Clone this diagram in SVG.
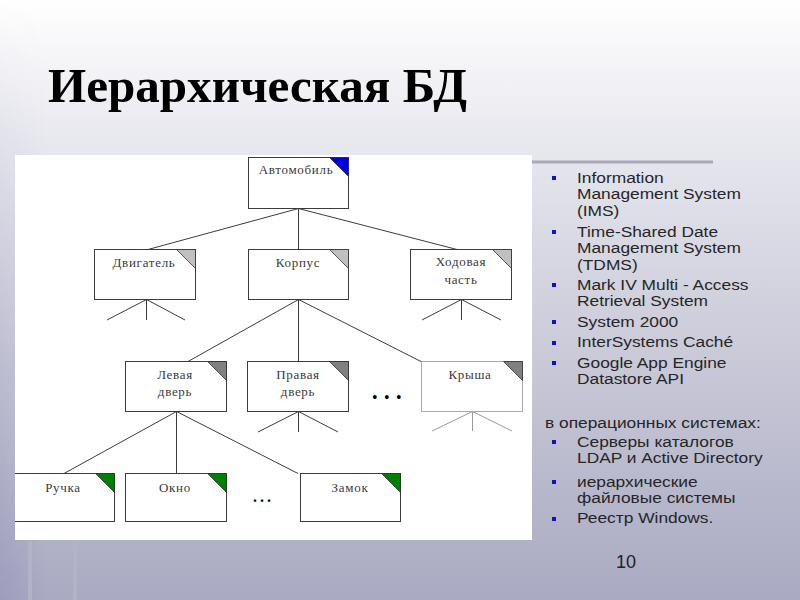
<svg xmlns="http://www.w3.org/2000/svg" width="800" height="600" viewBox="0 0 800 600">
<defs>
<linearGradient id="bg" x1="0" y1="0" x2="0" y2="1">
<stop offset="0" stop-color="#ffffff"/>
<stop offset="0.22" stop-color="#e9e9f0"/>
<stop offset="0.55" stop-color="#cdcddb"/>
<stop offset="1" stop-color="#a9a9c2"/>
</linearGradient>
<linearGradient id="lft" x1="0" y1="0" x2="1" y2="0">
<stop offset="0" stop-color="#6e6ea6" stop-opacity="0.2"/>
<stop offset="1" stop-color="#6e6ea6" stop-opacity="0"/>
</linearGradient>
<linearGradient id="fade" x1="0" y1="0" x2="0" y2="1">
<stop offset="0" stop-color="#fff" stop-opacity="0"/>
<stop offset="1" stop-color="#fff" stop-opacity="1"/>
</linearGradient>
<mask id="lm"><rect x="0" y="0" width="45" height="600" fill="url(#fade)"/></mask>
<clipPath id="panel"><rect x="15" y="155" width="517" height="385"/></clipPath>
<style>
.box{fill:#ffffff;stroke:#3c3c3c;stroke-width:1}
.boxl{fill:#ffffff;stroke:#a8a8a8;stroke-width:1}
.tri{stroke:#303030;stroke-width:0.8}
.lbl{font-family:"Liberation Serif","Times New Roman",serif;font-size:13px;fill:#3a3a3a;text-anchor:middle;letter-spacing:0.7px}
.conn line{stroke:#3c3c3c;stroke-width:1}
.conn .lt{stroke:#9a9a9a}
.txt{font-family:"Liberation Sans",Arial,sans-serif;font-size:15.5px;fill:#262626}
.bul{fill:#1010d0}
</style>
</defs>
<rect x="0" y="0" width="800" height="600" fill="url(#bg)"/>
<rect x="0" y="0" width="45" height="600" fill="url(#lft)" mask="url(#lm)"/>
<rect x="28" y="540" width="4" height="60" fill="#b3b3c8"/>
<rect x="73" y="540" width="4" height="60" fill="#b3b3c8"/>

<text id="title" x="48" y="102" font-family="'Liberation Serif','Times New Roman',serif" font-weight="bold" font-size="48" fill="#000" textLength="419" lengthAdjust="spacingAndGlyphs">Иерархическая БД</text>

<rect x="532" y="160.5" width="181" height="3" fill="#a9a9b6"/>
<rect x="15" y="155" width="517" height="385" fill="#ffffff"/>

<g class="conn">
<line x1="298.5" y1="208.5" x2="148" y2="249.5"/>
<line x1="298.5" y1="208.5" x2="298.5" y2="249.5"/>
<line x1="298.5" y1="208.5" x2="457" y2="249.5"/>
<line x1="146.5" y1="299.5" x2="107" y2="320"/>
<line x1="146.5" y1="299.5" x2="146.5" y2="320"/>
<line x1="146.5" y1="299.5" x2="185" y2="320"/>
<line x1="461.5" y1="299.5" x2="422" y2="320"/>
<line x1="461.5" y1="299.5" x2="461.5" y2="320"/>
<line x1="461.5" y1="299.5" x2="501" y2="320"/>
<line x1="298.5" y1="299.5" x2="188" y2="361.5"/>
<line x1="298.5" y1="299.5" x2="298.5" y2="361.5"/>
<line x1="298.5" y1="299.5" x2="421" y2="361.5"/>
<line x1="176.5" y1="411.5" x2="64" y2="473.5"/>
<line x1="176.5" y1="411.5" x2="176.5" y2="473.5"/>
<line x1="176.5" y1="411.5" x2="298" y2="473.5"/>
<line x1="298.5" y1="411.5" x2="258" y2="432"/>
<line x1="298.5" y1="411.5" x2="298.5" y2="432"/>
<line x1="298.5" y1="411.5" x2="338" y2="432"/>
<line class="lt" x1="472.5" y1="411.5" x2="432" y2="431"/>
<line class="lt" x1="472.5" y1="411.5" x2="472.5" y2="431"/>
<line class="lt" x1="472.5" y1="411.5" x2="512" y2="431"/>
</g>

<g id="avtomobil">
<rect class="box" x="248.5" y="157.5" width="100" height="51"/>
<polygon class="tri" points="329.5,157.5 348.5,157.5 348.5,176.5" fill="#0000e6"/>
<text class="lbl" x="296" y="174">Автомобиль</text>
</g>
<g id="dvigatel">
<rect class="box" x="94.5" y="249.5" width="101" height="50"/>
<polygon class="tri" points="176.5,249.5 195.5,249.5 195.5,268.5" fill="#c0c0c0"/>
<text class="lbl" x="144" y="267">Двигатель</text>
</g>
<g id="korpus">
<rect class="box" x="248.5" y="249.5" width="100" height="50"/>
<polygon class="tri" points="329.5,249.5 348.5,249.5 348.5,268.5" fill="#c0c0c0"/>
<text class="lbl" x="298" y="267">Корпус</text>
</g>
<g id="hodovaya">
<rect class="box" x="410.5" y="249.5" width="101" height="50"/>
<polygon class="tri" points="492.5,249.5 511.5,249.5 511.5,268.5" fill="#c0c0c0"/>
<text class="lbl" x="461" y="266">Ходовая</text>
<text class="lbl" x="461" y="284">часть</text>
</g>
<g id="levaya">
<rect class="box" x="125.5" y="361.5" width="101" height="50"/>
<polygon class="tri" points="207.5,361.5 226.5,361.5 226.5,380.5" fill="#808080"/>
<text class="lbl" x="175" y="379">Левая</text>
<text class="lbl" x="175" y="396">дверь</text>
</g>
<g id="pravaya">
<rect class="box" x="247.5" y="361.5" width="101" height="50"/>
<polygon class="tri" points="329.5,361.5 348.5,361.5 348.5,380.5" fill="#808080"/>
<text class="lbl" x="298" y="379">Правая</text>
<text class="lbl" x="298" y="396">дверь</text>
</g>
<g id="krysha">
<rect class="boxl" x="421.5" y="361.5" width="101" height="50"/>
<polygon class="tri" points="503.5,361.5 522.5,361.5 522.5,380.5" fill="#808080"/>
<text class="lbl" x="470" y="379">Крыша</text>
</g>
<g id="ruchka" clip-path="url(#panel)">
<rect class="box" x="12.5" y="473.5" width="102" height="48"/>
<polygon class="tri" points="95.5,473.5 114.5,473.5 114.5,492.5" fill="#008000"/>
<text class="lbl" x="63" y="492">Ручка</text>
</g>
<g id="okno">
<rect class="box" x="125.5" y="473.5" width="101" height="48"/>
<polygon class="tri" points="207.5,473.5 226.5,473.5 226.5,492.5" fill="#008000"/>
<text class="lbl" x="175" y="492">Окно</text>
</g>
<g id="zamok">
<rect class="box" x="300.5" y="473.5" width="100" height="48"/>
<polygon class="tri" points="381.5,473.5 400.5,473.5 400.5,492.5" fill="#008000"/>
<text class="lbl" x="350" y="492">Замок</text>
</g>
<text id="dots1" x="372" y="403" font-family="'Liberation Serif',serif" font-size="16" fill="#000" letter-spacing="6.4">•••</text>
<text id="dots2" x="253" y="502" font-family="'Liberation Serif',serif" font-size="16" font-weight="bold" fill="#000" letter-spacing="3">...</text>

<g id="list1">
<rect class="bul" x="552" y="176" width="4" height="4"/>
<rect class="bul" x="552" y="230" width="4" height="4"/>
<rect class="bul" x="552" y="283" width="4" height="4"/>
<rect class="bul" x="552" y="320" width="4" height="4"/>
<rect class="bul" x="552" y="341" width="4" height="4"/>
<rect class="bul" x="552" y="361" width="4" height="4"/>
<g transform="translate(577 0) scale(1.12 1)">
<text class="txt" x="0" y="183">Information</text>
<text class="txt" x="0" y="199.5">Management System</text>
<text class="txt" x="0" y="216">(IMS)</text>
<text class="txt" x="0" y="237">Time-Shared Date</text>
<text class="txt" x="0" y="253.5">Management System</text>
<text class="txt" x="0" y="270">(TDMS)</text>
<text class="txt" x="0" y="290">Mark IV Multi - Access</text>
<text class="txt" x="0" y="306.5">Retrieval System</text>
<text class="txt" x="0" y="327">System 2000</text>
<text class="txt" x="0" y="347.5">InterSystems Caché</text>
<text class="txt" x="0" y="368">Google App Engine</text>
<text class="txt" x="0" y="384.5">Datastore API</text>
</g>
</g>
<g id="list2">
<g transform="translate(545 0) scale(1.12 1)">
<text class="txt" x="0" y="428">в операционных системах:</text>
</g>
<rect class="bul" x="552" y="440" width="4" height="4"/>
<rect class="bul" x="552" y="480" width="4" height="4"/>
<rect class="bul" x="552" y="517" width="4" height="4"/>
<g transform="translate(577 0) scale(1.12 1)">
<text class="txt" x="0" y="447">Серверы каталогов</text>
<text class="txt" x="0" y="463.5">LDAP и Active Directory</text>
<text class="txt" x="0" y="487">иерархические</text>
<text class="txt" x="0" y="503.5">файловые системы</text>
<text class="txt" x="0" y="523">Реестр Windows.</text>
</g>
</g>
<text id="page" x="616" y="568" font-family="'Liberation Sans',Arial,sans-serif" font-size="18" fill="#222">10</text>
</svg>
